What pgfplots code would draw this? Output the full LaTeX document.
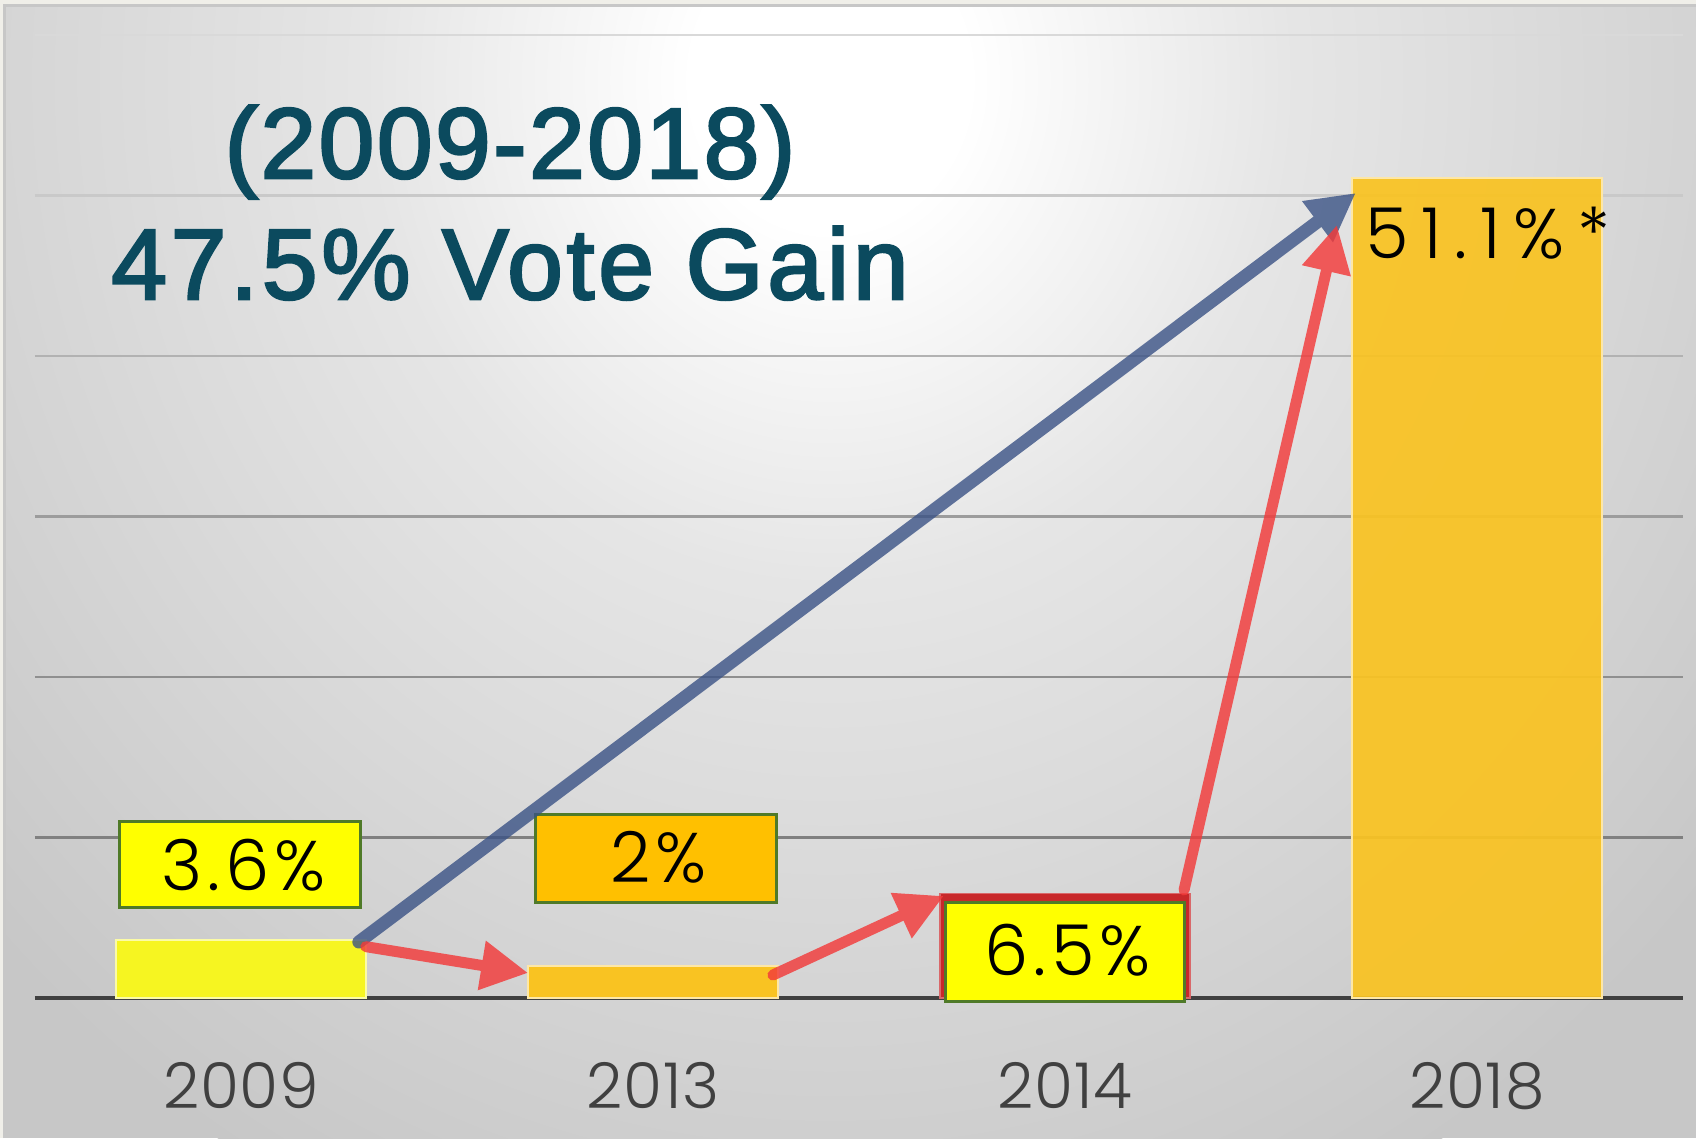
\documentclass[border=0pt]{standalone}
\usepackage{pgfplots}
\pgfplotsset{compat=1.18}
\usetikzlibrary{arrows.meta}
\usepackage{fontspec}
\setmainfont{Poppins}
\IfFontExistsTF{Poppins Light}{%
  \newfontfamily\boxfont{Poppins Light}[LetterSpace=7]
  \newfontfamily\widefont{Poppins Light}[LetterSpace=18]
  \newfontfamily\tickfont{Poppins Light}[LetterSpace=1]
}{%
  \newfontfamily\boxfont{Poppins}[LetterSpace=7]
  \newfontfamily\widefont{Poppins}[LetterSpace=18]
  \newfontfamily\tickfont{Poppins}[LetterSpace=1]
}
\newfontfamily\titlefont{Liberation Sans}[FakeBold=2.5, LetterSpace=2.5]
\newfontfamily\titlefontb{Liberation Sans}[FakeBold=2.5, LetterSpace=3.8]
\definecolor{titleblue}{HTML}{0B4A5E}
\definecolor{baryellow}{HTML}{F6F521}
\definecolor{barorange}{HTML}{F9C322}
\definecolor{barred}{HTML}{C8282A}
\definecolor{boxyellow}{HTML}{FFFF00}
\definecolor{boxorange}{HTML}{FFC000}
\definecolor{boxgreen}{HTML}{4F7A28}
\definecolor{arrowblue}{HTML}{3A5285}
\definecolor{arrowred}{HTML}{F23A3A}
\definecolor{ticktext}{HTML}{404040}
\definecolor{bgframe}{HTML}{F0EFE9}
\definecolor{bgedge}{HTML}{C7C7C7}
\pgfdeclareradialshading{bgshade}{\pgfpoint{0bp}{0bp}}{color(0bp)=(white); color(3bp)=(white); color(10bp)=(black!10); color(17.5bp)=(black!16); color(25bp)=(bgedge); color(50bp)=(bgedge)}
\begin{document}
\begin{tikzpicture}
% background in image pixel coordinates (1px = 0.1mm)
\begin{scope}[xshift=-3.5mm, yshift=99.8mm, x=0.1mm, y=-0.1mm]
  \fill[bgframe] (0,0) rectangle (1696,1138);
  \begin{scope}
    \clip (5,5) rectangle (1696,1138);
    \fill[bgedge] (5,5) rectangle (1696,1138);
    \shade[shading=bgshade] (830,80) ellipse [x radius=1150, y radius=1250];
  \end{scope}
  \draw[black!22, line width=0.3mm] (5,1138) -- (5,5) -- (1696,5);
  \foreach \k/\g in {1/0.50, 2/0.56, 3/0.61, 4/0.70, 5/0.79, 6/0.85} {
    \definecolor{gc}{gray}{\g}
    \draw[gc, line width=0.25mm] (35,{998-160.5*\k}) -- (1683,{998-160.5*\k});
  }
\end{scope}

\begin{axis}[
  at={(0,0)}, anchor=south west,
  scale only axis, width=164.8mm, height=96.3mm,
  xmin=-0.5, xmax=3.5, ymin=0, ymax=60,
  axis x line*=bottom, axis y line=none,
  x axis line style={draw=ticktext, line width=0.45mm},
  xtick={0,1,2,3}, xticklabels={2009,2013,2014,2018},
  major tick length=0pt,
  xticklabel style={anchor=base, yshift=-11mm, font=\tickfont\fontsize{18}{18}\selectfont, text=ticktext},
  ybar, bar width=25mm,
  clip=false,
]
\addplot[fill=baryellow, draw=white!60!baryellow, line width=0.15mm, bar shift=0pt] coordinates {(0,3.6)};
\addplot[fill=barorange, draw=white!60!barorange, line width=0.15mm, bar shift=0pt] coordinates {(1,2)};
\addplot[fill=barred, draw=white!30!barred, line width=0.15mm, bar shift=0pt] coordinates {(2,6.5)};
\addplot[fill=barorange, fill opacity=0.93, draw=white!60!barorange, line width=0.15mm, bar shift=0pt] coordinates {(3,51.1)};

% value boxes
\draw[boxgreen, line width=0.3mm, fill=boxyellow] (axis cs:-0.294,5.61) rectangle (axis cs:0.289,10.97);
\node[font=\boxfont\fontsize{20}{20}\selectfont, text=black, xshift=0.25mm] at (axis cs:0,8.27) {3.6\%};
\draw[boxgreen, line width=0.3mm, fill=boxorange] (axis cs:0.714,5.98) rectangle (axis cs:1.299,11.46);
\node[font=\boxfont\fontsize{20}{20}\selectfont, text=black, xshift=0.25mm] at (axis cs:1.0065,8.74) {2\%};
\draw[boxgreen, line width=0.3mm, fill=boxyellow] (axis cs:1.709,-0.19) rectangle (axis cs:2.291,5.98);
\node[font=\boxfont\fontsize{20}{20}\selectfont, text=black, xshift=0.25mm] at (axis cs:2.0,2.99) {6.5\%};
\node[font=\widefont\fontsize{20}{20}\selectfont, text=black, anchor=base west, inner sep=0pt] at (axis cs:2.728,46.1) {51.1\%*};

% arrows
\begin{scope}[transparency group, opacity=0.8]
\draw[arrowblue, line width=1.3mm, line cap=round, -{Triangle[length=4.8mm,width=4.8mm]}] (axis cs:0.286,3.49) -- (axis cs:2.706,50.16);
\end{scope}
\begin{scope}[transparency group, opacity=0.82]
\draw[arrowred, line width=1.1mm, line cap=round, -{Triangle[length=4.7mm,width=4.7mm]}] (axis cs:0.303,3.2) -- (axis cs:0.697,1.56);
\end{scope}
\begin{scope}[transparency group, opacity=0.82]
\draw[arrowred, line width=1.1mm, line cap=round, -{Triangle[length=4.7mm,width=4.7mm]}] (axis cs:1.291,1.43) -- (axis cs:1.706,6.36);
\end{scope}
\begin{scope}[transparency group, opacity=0.82]
\draw[arrowred, line width=1.1mm, line cap=round, -{Triangle[length=4.7mm,width=4.7mm]}] (axis cs:2.289,6.73) -- (axis cs:2.660,48.16);
\end{scope}
\end{axis}

\begin{scope}[xshift=-3.5mm, yshift=99.8mm, x=0.1mm, y=-0.1mm]
  \node[anchor=base, text=titleblue, font=\titlefont\fontsize{28.5}{30}\selectfont, inner sep=0pt] at (510,178) {(2009-2018)};
  \node[anchor=base, text=titleblue, font=\titlefontb\fontsize{28.5}{30}\selectfont, inner sep=0pt] at (510,299) {47.5\% Vote Gain};
  \pgfresetboundingbox
  \path[use as bounding box] (0,0) rectangle (1696,1138);
\end{scope}
\end{tikzpicture}
\end{document}
